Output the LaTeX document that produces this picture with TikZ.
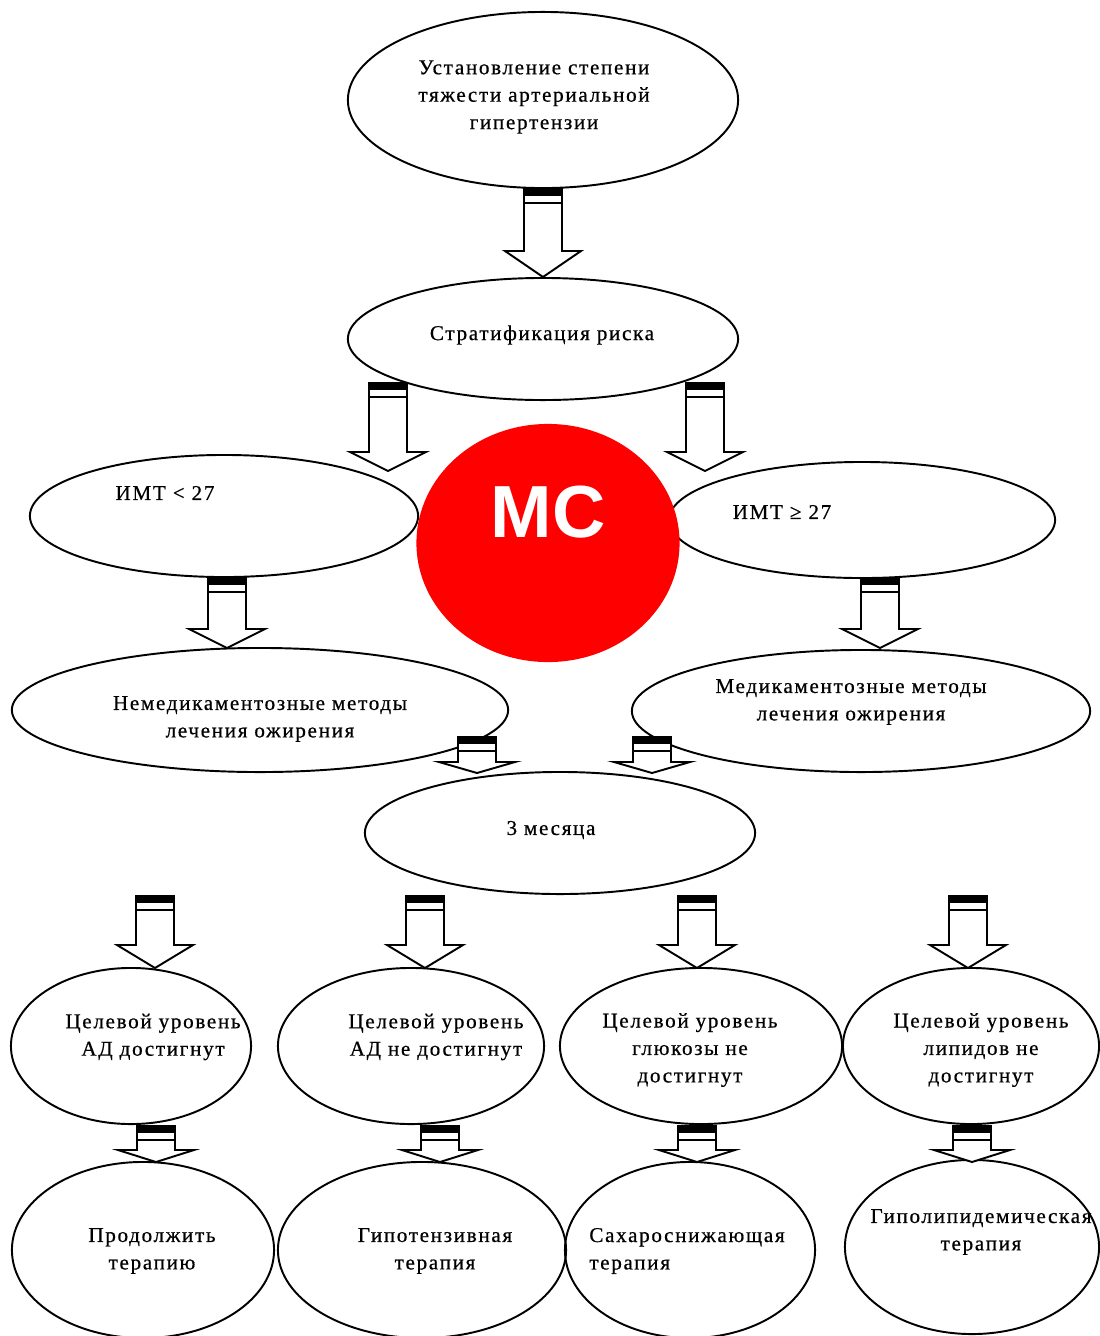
\documentclass[tikz,border=0pt]{standalone}
\usepackage{fontspec}
\setmainfont{Liberation Serif}
\newfontfamily\txtfont{Liberation Serif}[FakeBold=0.6, LetterSpace=8]
\newfontfamily\mcfont{Liberation Sans}
\usetikzlibrary{calc,shapes.geometric}

% hollow block arrow: #1 top, #2 tip, #3 head length
\newcommand{\blockarrow}[3]{%
  \filldraw[barrow] let \p1=(#1), \p2=(#2) in
    (\x1-1.9mm,\y1) -- (\x1+1.9mm,\y1) -- (\x1+1.9mm,\y2+#3) -- (\x1+3.8mm,\y2+#3)
    -- (\x1,\y2) -- (\x1-3.8mm,\y2+#3) -- (\x1-1.9mm,\y2+#3) -- cycle;
  \fill let \p1=(#1) in (\x1-1.9mm,\y1) rectangle (\x1+1.9mm,\y1-0.7mm);
  \draw[line width=0.6pt] let \p1=(#1) in (\x1-1.9mm,\y1-1.4mm) -- (\x1+1.9mm,\y1-1.4mm);
}

\begin{document}
\begin{tikzpicture}[x=0.01cm, y=-0.01cm,
  oval/.style={draw, ellipse, line width=0.55pt, inner sep=0pt},
  txt/.style={font=\txtfont\fontsize{6}{7.8}\selectfont, align=center},
  barrow/.style={draw, fill=white, line width=0.55pt, line join=miter},
]
\useasboundingbox (0,0) rectangle (1100,1336);
\clip (0,0) rectangle (1100,1336);

% ellipses
\node[oval, minimum width=3.9cm, minimum height=1.76cm] (top) at (543,100) {};
\node[oval, minimum width=3.9cm, minimum height=1.22cm] (strat) at (543,339) {};
\node[oval, minimum width=3.88cm, minimum height=1.22cm] (imt1) at (224,516) {};
\node[oval, minimum width=3.86cm, minimum height=1.16cm] (imt2) at (862,520) {};
\node[oval, minimum width=4.96cm, minimum height=1.24cm] (nonmed) at (260,710) {};
\node[oval, minimum width=4.58cm, minimum height=1.22cm] (med) at (861,711) {};
\node[oval, minimum width=3.9cm, minimum height=1.22cm] (months) at (560,833) {};

\node[oval, minimum width=2.4cm, minimum height=1.56cm] (goalA) at (131,1046) {};
\node[oval, minimum width=2.66cm, minimum height=1.56cm] (goalB) at (411,1046) {};
\node[oval, minimum width=2.82cm, minimum height=1.56cm] (goalC) at (701,1046) {};
\node[oval, minimum width=2.56cm, minimum height=1.56cm] (goalD) at (971,1046) {};

\node[oval, minimum width=2.62cm, minimum height=1.76cm] (thA) at (143,1250) {};
\node[oval, minimum width=2.88cm, minimum height=1.76cm] (thB) at (422,1250) {};
\node[oval, minimum width=2.5cm, minimum height=1.76cm] (thC) at (690,1250) {};
\node[oval, minimum width=2.54cm, minimum height=1.74cm] (thD) at (972,1247) {};

% texts
\node[txt] (top-t) at (534,97) {Установление степени\\тяжести артериальной\\гипертензии};
\node[txt] (strat-t) at (542,335) {Стратификация риска};
\node[txt] (imt1-t) at (165,493) {ИМТ < 27};
\node[txt] (imt2-t) at (782,512) {ИМТ ≥ 27};
\node[txt] (nonmed-t) at (260,719) {Немедикаментозные методы\\лечения ожирения};
\node[txt] (med-t) at (851,702) {Медикаментозные методы\\лечения ожирения};
\node[txt] (months-t) at (551,830) {3 месяца};

\node[txt] (goalA-t) at (153,1037) {Целевой уровень\\АД достигнут};
\node[txt] (goalB-t) at (436,1037) {Целевой уровень\\АД не достигнут};
\node[txt] (goalC-t) at (690,1050) {Целевой уровень\\глюкозы не\\достигнут};
\node[txt] (goalD-t) at (981,1050) {Целевой уровень\\липидов не\\достигнут};

\node[txt] (thA-t) at (152,1251) {Продолжить\\терапию};
\node[txt] (thB-t) at (435,1251) {Гипотензивная\\терапия};
\node[txt, align=left] (thC-t) at (687,1251) {Сахароснижающая\\терапия};
\node[txt] (thD-t) at (981,1232) {Гиполипидемическая\\терапия};

% arrows
\blockarrow{top.south}{strat.north}{2.6mm}
\coordinate (s2) at (388,383); \coordinate (e2) at (388,471);
\coordinate (s3) at (705,383); \coordinate (e3) at (705,471);
\blockarrow{s2}{e2}{1.9mm}
\blockarrow{s3}{e3}{1.9mm}
\coordinate (s4) at (227,578); \coordinate (e4) at (227,648);
\coordinate (s5) at (880,578); \coordinate (e5) at (880,648);
\blockarrow{s4}{e4}{1.9mm}
\blockarrow{s5}{e5}{1.9mm}
\coordinate (s6) at (477,737); \coordinate (e6) at (477,773);
\coordinate (s7) at (652,737); \coordinate (e7) at (652,773);
\blockarrow{s6}{e6}{1.1mm}
\blockarrow{s7}{e7}{1.1mm}

\foreach \i/\xa/\xb in {1/155/156, 2/425/440, 3/697/697, 4/968/972} {
  \coordinate (d\i s) at (\xa,896); \coordinate (d\i e) at (\xa,968);
  \blockarrow{d\i s}{d\i e}{2.3mm}
  \coordinate (t\i s) at (\xb,1126); \coordinate (t\i e) at (\xb,1162);
  \blockarrow{t\i s}{t\i e}{1.2mm}
}

% red badge
\node[ellipse, fill=red, minimum width=2.63cm, minimum height=2.38cm, inner sep=0pt] (badge) at (548,543) {};
\node[text=white, font=\mcfont\bfseries\fontsize{21}{21}\selectfont] (badge-t) at (548,512) {МС};

\end{tikzpicture}
\end{document}
